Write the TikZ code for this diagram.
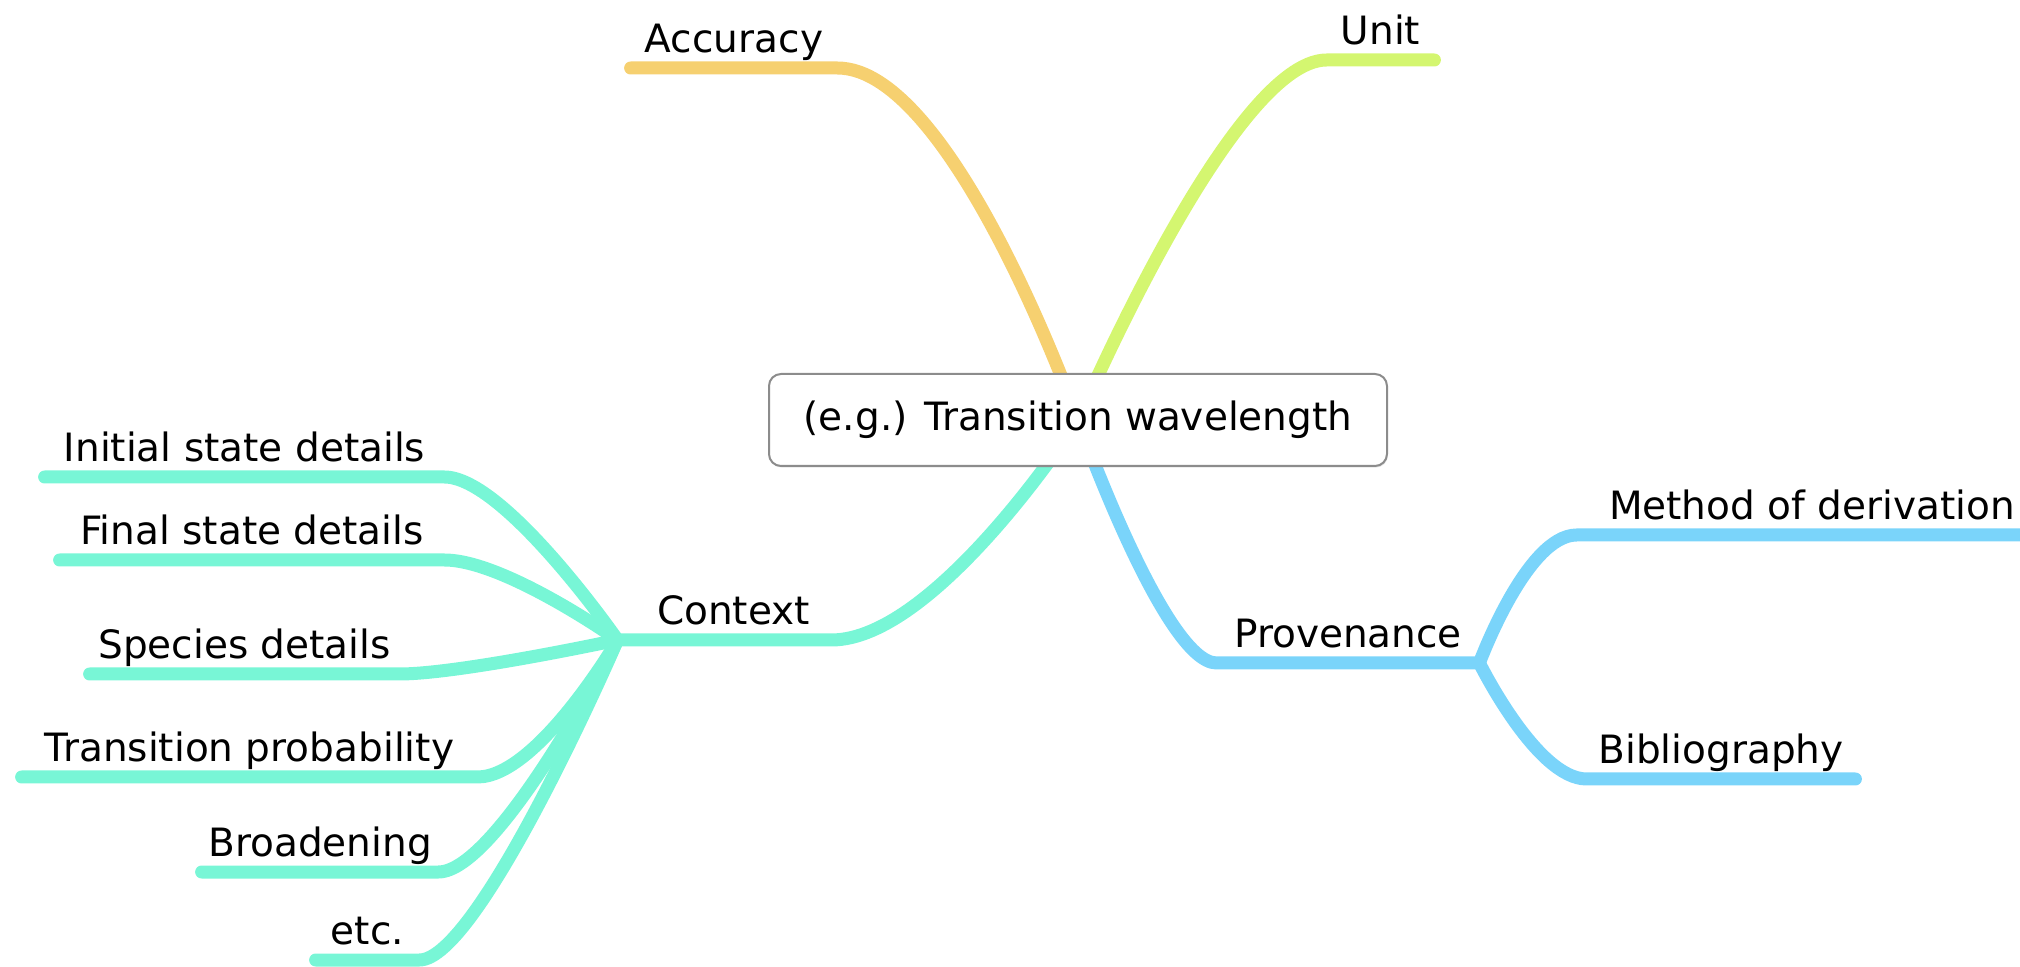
\documentclass[tikz,border=0pt]{standalone}
\usepackage{fontspec}
\newfontfamily\mapfont{DejaVu Sans}
\usetikzlibrary{calc,backgrounds,shadows}

\definecolor{accuracycol}{RGB}{246,208,112}
\definecolor{unitcol}{RGB}{212,246,112}
\definecolor{contextcol}{RGB}{120,246,214}
\definecolor{provcol}{RGB}{122,212,250}

\tikzset{
  topic/.style={font=\mapfont\fontsize{19.5}{24}\selectfont, inner xsep=0pt,
    inner ysep=7.5pt, text depth=0pt, anchor=south},
  rootbox/.style={draw=black!45, line width=1pt, fill=white, rounded corners=6pt,
    font=\mapfont\fontsize{19.5}{24}\selectfont, minimum width=309pt, minimum height=46pt,
    drop shadow={opacity=0.2, shadow xshift=0.4pt, shadow yshift=-0.8pt}},
  branch/.style={line width=6.5pt, line cap=round},
}

\begin{document}
\begin{tikzpicture}[x=0.5pt, y=-0.5pt]
  \clip (0,0) rectangle (2020,967);

  \node[rootbox] (root) at (1078,420) {(e.g.) Transition wavelength};

  % main topics
  \node[topic, minimum width=103pt]   (acc)  at (734,68)    {Accuracy};
  \node[topic, minimum width=53.5pt]  (unit) at (1380.5,60) {Unit};
  \node[topic, minimum width=106.5pt] (ctx)  at (724.5,640) {\hspace{9pt}Context};
  \node[topic, minimum width=131pt]   (prov) at (1348,663)  {Provenance};

  % provenance
  \node[topic, minimum width=235pt] (meth)  at (1812,535) {Method of derivation};
  \node[topic, minimum width=134pt] (bib)   at (1721,779) {Bibliography};

  % context
  \node[topic, minimum width=199.5pt] (init)  at (244.5,477) {Initial state details};
  \node[topic, minimum width=192pt]   (final) at (252,560)   {Final state details};
  \node[topic, minimum width=154.5pt] (spec)  at (244.5,674) {Species details};
  \node[topic, minimum width=227.5pt] (trans) at (249.5,777) {Transition probability};
  \node[topic, minimum width=118pt]   (broad) at (320,872)   {Broadening};
  \node[topic, minimum width=51.5pt]  (etc)   at (367.5,960) {etc.};

  \begin{pgfonlayer}{background}
    \draw[branch, accuracycol] (root.center) .. controls (root.center) and ($(acc.south east)+(116,0)$) .. (acc.south east) -- (acc.south west);
    \draw[branch, unitcol] (root.center) .. controls (root.center) and ($(unit.south west)+(-95,0)$) .. (unit.south west) -- (unit.south east);
    \draw[branch, contextcol] (root.center) .. controls (root.center) and ($(ctx.south east)+(105,0)$) .. (ctx.south east) -- (ctx.south west);
    \draw[branch, provcol] (root.center) .. controls (root.center) and ($(prov.south west)+(-52,0)$) .. (prov.south west) -- (prov.south east);

    \foreach \leaf in {meth,bib}
      \draw[branch, provcol] (prov.south east) .. controls (prov.south east) and ($(\leaf.south west)+(-50,0)$) .. (\leaf.south west) -- (\leaf.south east);

    \foreach \leaf in {init,final,spec,trans,broad,etc}
      \draw[branch, contextcol] (ctx.south west) .. controls (ctx.south west) and ($(\leaf.south east)+(60,0)$) .. (\leaf.south east) -- (\leaf.south west);
  \end{pgfonlayer}
\end{tikzpicture}
\end{document}
